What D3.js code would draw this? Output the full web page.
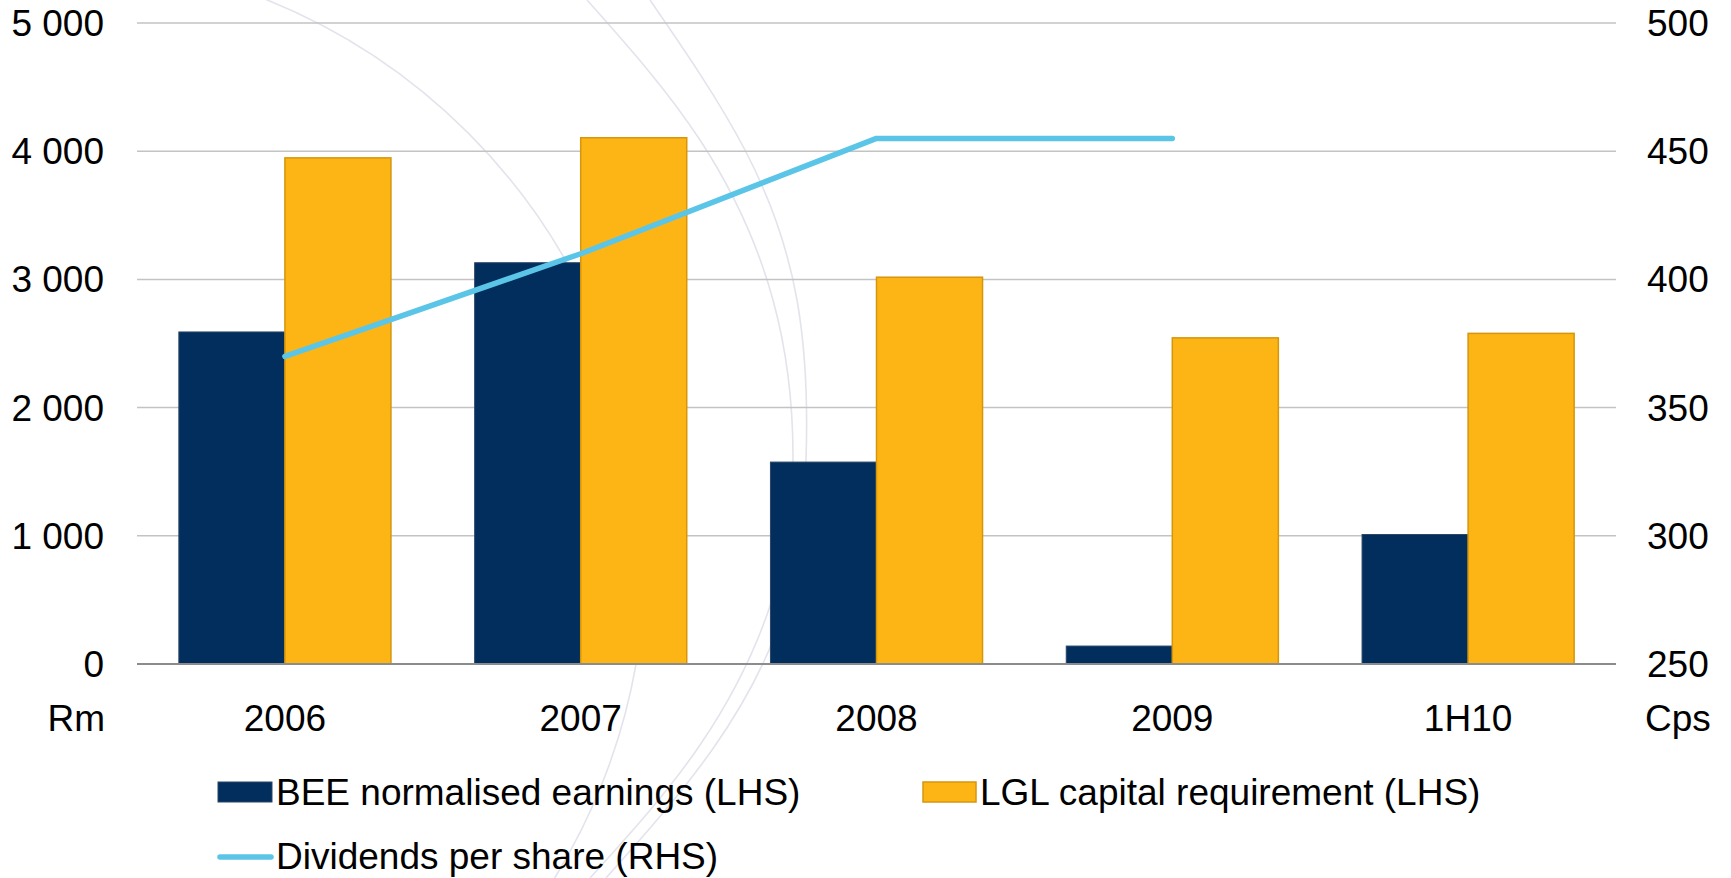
<!DOCTYPE html>
<html>
<head>
<meta charset="utf-8">
<script src="https://cdn.jsdelivr.net/npm/d3@7"></script>
<style>
  html, body { margin: 0; padding: 0; background: #fff; }
  svg { display: block; font-family: "Liberation Sans", Arial, sans-serif; }
</style>
</head>
<body>
<svg id="chart" width="1731" height="878"></svg>
<script>
// ---- data ----
const categories = ["2006", "2007", "2008", "2009", "1H10"];
const beeEarnings = [2590, 3130, 1575, 140, 1010];
const lglCapital = [3948, 4105, 3017, 2544, 2579];
const dividends = [370, 410, 455, 455, null];
const leftTicks = [0, 1000, 2000, 3000, 4000, 5000];
const rightTicks = [250, 300, 350, 400, 450, 500];
const seriesNames = ["BEE normalised earnings (LHS)", "LGL capital requirement (LHS)", "Dividends per share (RHS)"];
const leftUnit = "Rm";
const rightUnit = "Cps";

// ---- layout ----
const W = 1731, H = 878;
const plot = { left: 137, right: 1616, top: 23, bottom: 664 };
const colors = { bee: "#012e5c", beeStroke: "#2a4766", lgl: "#fdb515", lglStroke: "#d6960c", line: "#5bc5e8", grid: "#c3c3c3", axis: "#8c8c8c", arc: "#e3e3ec" };
const fontSize = 37;

const svg = d3.select("#chart");

const x0 = d3.scaleBand().domain(categories).range([plot.left, plot.right]).paddingInner(0.283).paddingOuter(0.1415);
const x1 = d3.scaleBand().domain(["bee", "lgl"]).range([0, x0.bandwidth()]);
const yL = d3.scaleLinear().domain([0, 5000]).range([plot.bottom, plot.top]);
const yR = d3.scaleLinear().domain([250, 500]).range([plot.bottom, plot.top]);

// ---- decorative background arcs (watermark) ----
const deco = svg.append("g");
deco.append("circle").attr("cx", 41).attr("cy", 560).attr("r", 604)
  .attr("fill", "none").attr("stroke", colors.arc).attr("stroke-width", 1.6);
const arcPaths = [
  [[587, 0], [700, 140], [773, 300], [793, 460], [772, 600], [700, 745], [590, 878]],
  [[650, 0], [745, 150], [797, 300], [806, 460], [784, 610], [712, 750], [606, 878]]
];
const arcLine = d3.line().curve(d3.curveNatural);
arcPaths.forEach(p => deco.append("path").attr("d", arcLine(p))
  .attr("fill", "none").attr("stroke", colors.arc).attr("stroke-width", 1.6));

// ---- gridlines ----
svg.append("g").selectAll("line").data(leftTicks.filter(d => d > 0)).join("line")
  .attr("x1", plot.left).attr("x2", plot.right)
  .attr("y1", d => yL(d)).attr("y2", d => yL(d))
  .attr("stroke", colors.grid).attr("stroke-width", 1.5);

// ---- bars ----
const groups = svg.append("g").selectAll("g").data(categories).join("g")
  .attr("transform", d => `translate(${x0(d)},0)`);
groups.append("rect")
  .attr("x", x1("bee")).attr("width", x1.bandwidth())
  .attr("y", (d, i) => yL(beeEarnings[i]))
  .attr("height", (d, i) => yL(0) - yL(beeEarnings[i]))
  .attr("fill", colors.bee).attr("stroke", colors.beeStroke).attr("stroke-width", 1);
groups.append("rect")
  .attr("x", x1("lgl")).attr("width", x1.bandwidth())
  .attr("y", (d, i) => yL(lglCapital[i]))
  .attr("height", (d, i) => yL(0) - yL(lglCapital[i]))
  .attr("fill", colors.lgl).attr("stroke", colors.lglStroke).attr("stroke-width", 1.5);

// ---- zero axis ----
svg.append("line").attr("x1", plot.left).attr("x2", plot.right)
  .attr("y1", yL(0)).attr("y2", yL(0)).attr("stroke", colors.axis).attr("stroke-width", 2);

// ---- dividends line ----
const lineData = categories.map((c, i) => ({ c, v: dividends[i] }));
svg.append("path").datum(lineData)
  .attr("d", d3.line().defined(d => d.v != null)
    .x(d => x0(d.c) + x0.bandwidth() / 2).y(d => yR(d.v)))
  .attr("fill", "none").attr("stroke", colors.line).attr("stroke-width", 5.5)
  .attr("stroke-linecap", "round").attr("stroke-linejoin", "round");

// ---- axis labels ----
const txt = svg.append("g").attr("font-size", fontSize).attr("fill", "#000");
const fmt = d => d3.format(",")(d).replace(/,/g, " ");
txt.selectAll(".yl").data(leftTicks).join("text")
  .attr("x", 104).attr("y", d => yL(d) + 13).attr("text-anchor", "end").text(d => fmt(d));
txt.selectAll(".yr").data(rightTicks).join("text")
  .attr("x", 1647).attr("y", d => yR(d) + 13).attr("text-anchor", "start").text(d => d);
txt.selectAll(".xl").data(categories).join("text")
  .attr("x", d => x0(d) + x0.bandwidth() / 2).attr("y", 731).attr("text-anchor", "middle").text(d => d);
txt.append("text").attr("x", 105).attr("y", 731).attr("text-anchor", "end").text(leftUnit);
txt.append("text").attr("x", 1645).attr("y", 731).attr("text-anchor", "start").text(rightUnit);

// ---- legend ----
const lg = svg.append("g").attr("font-size", fontSize);
lg.append("rect").attr("x", 218).attr("y", 782).attr("width", 54).attr("height", 20)
  .attr("fill", colors.bee).attr("stroke", colors.beeStroke).attr("stroke-width", 1);
lg.append("text").attr("x", 276).attr("y", 805).text(seriesNames[0]);
lg.append("rect").attr("x", 923).attr("y", 782).attr("width", 53).attr("height", 20)
  .attr("fill", colors.lgl).attr("stroke", colors.lglStroke).attr("stroke-width", 1.5);
lg.append("text").attr("x", 980).attr("y", 805).text(seriesNames[1]);
lg.append("line").attr("x1", 220).attr("x2", 271).attr("y1", 857).attr("y2", 857)
  .attr("stroke", colors.line).attr("stroke-width", 5.5).attr("stroke-linecap", "round");
lg.append("text").attr("x", 276).attr("y", 869).text(seriesNames[2]);
</script>
</body>
</html>
